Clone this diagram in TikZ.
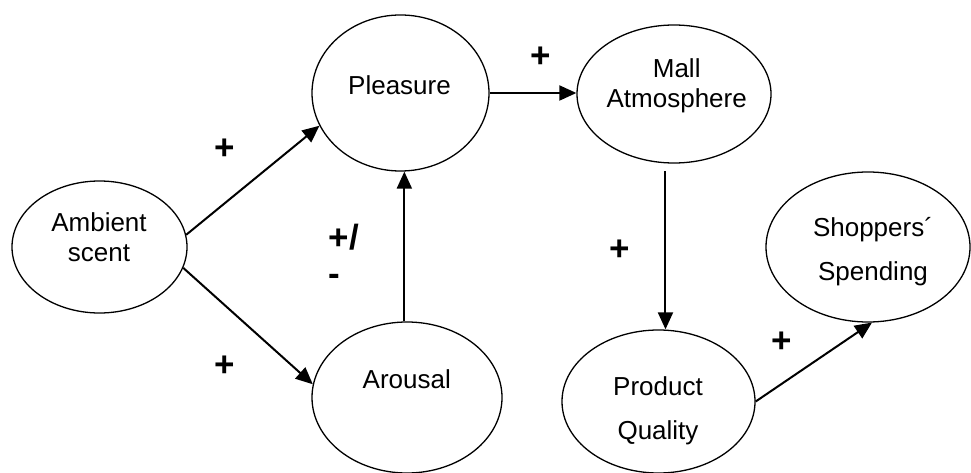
\documentclass[tikz,border=0pt]{standalone}
\usepackage{fontspec}
\setmainfont{Liberation Sans}
\usetikzlibrary{arrows.meta,shapes.geometric}
\begin{document}
\begin{tikzpicture}[x=1pt,y=-1pt,
  state/.style={ellipse, draw, line width=1.3pt, inner sep=0pt},
  lbl/.style={inner sep=0pt, align=center, font=\fontsize{26}{30}\selectfont},
  widelbl/.style={inner sep=0pt, align=center, font=\fontsize{26}{44}\selectfont},
  sign/.style={inner sep=0pt, font=\bfseries\fontsize{35}{35.5}\selectfont},
  link/.style={line width=2pt, -{Triangle[length=17pt,width=15pt]}}]
\useasboundingbox (0,0) rectangle (971,473);

% constructs
\node[state, minimum width=175pt, minimum height=132pt] (amb)  at (99.5,247)  {};
\node[state, minimum width=177pt, minimum height=156pt] (ple)  at (400.5,93)  {};
\node[state, minimum width=194pt, minimum height=138pt] (mall) at (674,94)    {};
\node[state, minimum width=190pt, minimum height=151pt] (aro)  at (407,397.5) {};
\node[state, minimum width=193pt, minimum height=143pt] (prod) at (658.5,401.5) {};
\node[state, minimum width=204pt, minimum height=150pt] (shop) at (868,247)   {};

% names of the constructs
\node[lbl]     (ambT)  at (99,237.6)  {Ambient\\scent};
\node[lbl]     (pleT)  at (399.5,85)  {Pleasure};
\node[lbl]     (mallT) at (676.7,86)  {Mall\\Atmosphere};
\node[lbl]     (aroT)  at (406.8,379) {Arousal};
\node[widelbl] (prodT) at (658,411)   {Product\\Quality};
\node[widelbl] (shopT) at (873,252)   {Shoppers´\\Spending};

% paths
\draw[link] (amb.8) -- (ple.202);
\draw[link] (amb.-14) -- (aro.172);
\draw[link] (aro.92) -- (aro.92 |- ple.south);
\draw[link] (ple.east) -- (ple.east -| mall.west);
\draw[link, shorten <=8pt] (mall.263) -- (mall.263 |- prod.north);
\draw[link] (prod.east) -- (shop.273);

% signs of the effects
\node[sign] (s1) at (224.7,149.3) {+};
\node[sign] (s2) at (224.7,366)   {+};
\node[sign] (s3) at (540.5,57.5)  {+};
\node[sign] (s4) at (619.5,250.3) {+};
\node[sign] (s5) at (781.7,342)   {+};
\node[sign, align=left, anchor=west] (s6) at (328.6,255) {+/\\-};
\end{tikzpicture}
\end{document}
